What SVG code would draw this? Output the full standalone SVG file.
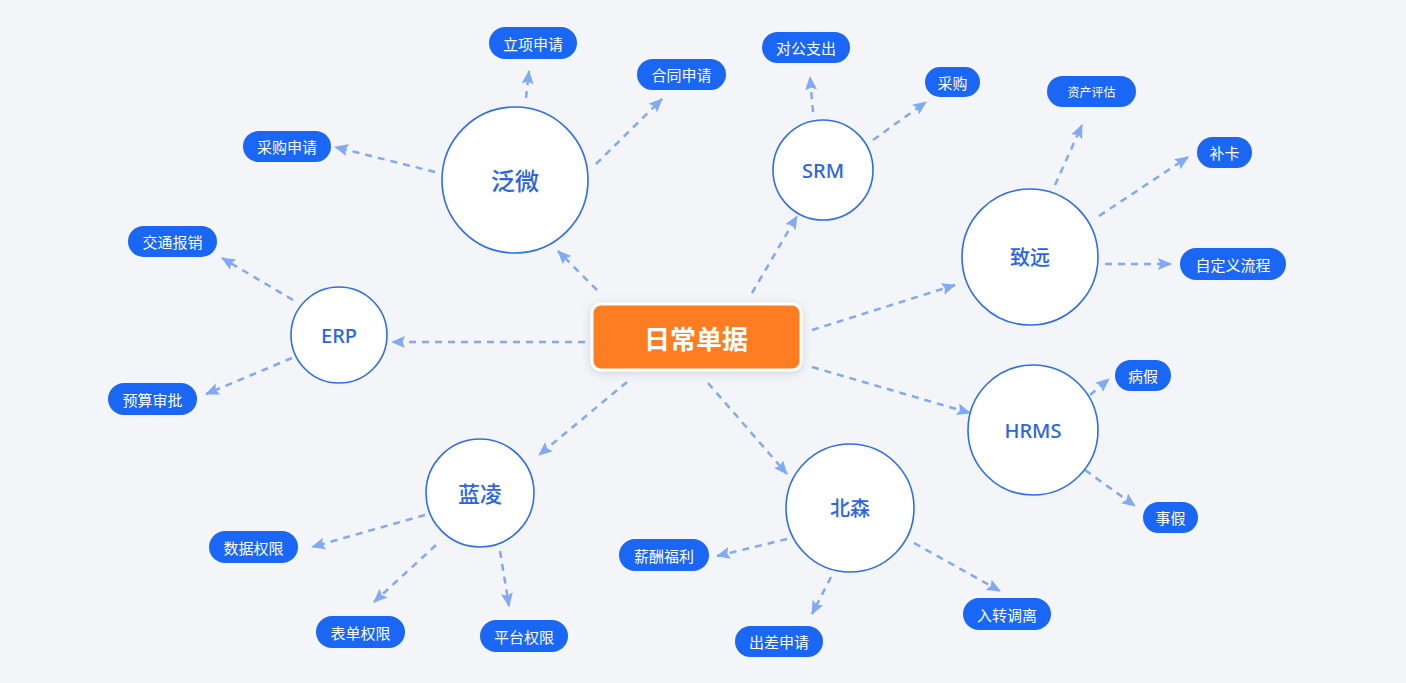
<svg xmlns="http://www.w3.org/2000/svg" width="1406" height="683" viewBox="0 0 1406 683">
<defs>
<marker id="ah" viewBox="0 0 14 14" markerWidth="14" markerHeight="14" refX="13" refY="7" orient="auto" markerUnits="userSpaceOnUse">
<path d="M0,1 L14,7 L0,13 L2.5,7 z" fill="#82a9f6"/>
</marker>
<filter id="sh" x="-20%" y="-40%" width="140%" height="180%">
<feDropShadow dx="0" dy="2" stdDeviation="5" flood-color="#8a94a6" flood-opacity="0.35"/>
</filter>
</defs>
<style>
.bg{fill:#f3f5f8}
.c{fill:#ffffff;stroke:#2c6df1;stroke-width:1.6}
.ct{fill:#2a64e6;font-family:"Noto Sans","Noto Sans CJK SC",sans-serif;font-weight:500;text-anchor:middle;dominant-baseline:central}
.p{fill:#1a66f5}
.pt{fill:#ffffff;font-family:"Noto Sans CJK SC",sans-serif;font-size:15px;text-anchor:middle;dominant-baseline:central}
.pt.s{font-size:12px}
.l{stroke:#82a9f6;stroke-width:2.5;stroke-dasharray:7 6;fill:none;marker-end:url(#ah)}
</style>
<rect class="bg" x="0" y="0" width="1406" height="683"/>
<g id="connectors">
<line class="l" x1="597" y1="290" x2="558" y2="251"/>
<line class="l" x1="752" y1="293" x2="797" y2="216"/>
<line class="l" x1="812" y1="330" x2="955" y2="285"/>
<line class="l" x1="585" y1="342" x2="392" y2="342"/>
<line class="l" x1="812" y1="367" x2="970" y2="413"/>
<line class="l" x1="708" y1="383" x2="787" y2="474"/>
<line class="l" x1="627" y1="382" x2="539" y2="455"/>
<line class="l" x1="526" y1="98" x2="529" y2="71"/>
<line class="l" x1="596" y1="164" x2="662" y2="99"/>
<line class="l" x1="435" y1="172" x2="335" y2="147"/>
<line class="l" x1="813" y1="112" x2="810" y2="77"/>
<line class="l" x1="873" y1="140" x2="926" y2="102"/>
<line class="l" x1="1055" y1="185" x2="1082" y2="125"/>
<line class="l" x1="1099" y1="216" x2="1188" y2="157"/>
<line class="l" x1="1105" y1="264" x2="1171" y2="264"/>
<line class="l" x1="293" y1="300" x2="222" y2="258"/>
<line class="l" x1="292" y1="358" x2="206" y2="394"/>
<line class="l" x1="1090" y1="395" x2="1109" y2="379"/>
<line class="l" x1="1085" y1="470" x2="1135" y2="506"/>
<line class="l" x1="425" y1="515" x2="312" y2="547"/>
<line class="l" x1="436" y1="545" x2="374" y2="602"/>
<line class="l" x1="500" y1="551" x2="509" y2="606"/>
<line class="l" x1="787" y1="539" x2="717" y2="556"/>
<line class="l" x1="831" y1="577" x2="812" y2="614"/>
<line class="l" x1="914" y1="543" x2="1000" y2="591"/>
</g>
<g id="center">
<rect x="592" y="304" width="209" height="66" rx="9" fill="#fe7c22" stroke="#ffffff" stroke-width="3" filter="url(#sh)"/>
<text x="696" y="337" fill="#ffffff" font-family="'Noto Sans CJK SC',sans-serif" font-size="26" font-weight="700" text-anchor="middle" dominant-baseline="central">日常单据</text>
</g>
<g id="fanwei"><circle class="c" cx="515" cy="180" r="73"/><text class="ct" x="515" y="180" font-size="24">泛微</text></g>
<g id="srm"><circle class="c" cx="823" cy="170" r="50"/><text class="ct" x="823" y="170" font-size="20">SRM</text></g>
<g id="zhiyuan"><circle class="c" cx="1030" cy="257" r="68"/><text class="ct" x="1030" y="257" font-size="20">致远</text></g>
<g id="erp"><circle class="c" cx="339" cy="335" r="48"/><text class="ct" x="339" y="335" font-size="20">ERP</text></g>
<g id="lanling"><circle class="c" cx="480" cy="493" r="54"/><text class="ct" x="480" y="493" font-size="22">蓝凌</text></g>
<g id="beisen"><circle class="c" cx="850" cy="508" r="64"/><text class="ct" x="850" y="508" font-size="20">北森</text></g>
<g id="hrms"><circle class="c" cx="1033" cy="430" r="65"/><text class="ct" x="1033" y="430" font-size="20">HRMS</text></g>
<g id="lixiang"><rect class="p" x="489" y="27" width="88" height="32" rx="16"/><text class="pt" x="533" y="43">立项申请</text></g>
<g id="hetong"><rect class="p" x="637" y="59" width="89" height="31" rx="15.5"/><text class="pt" x="681.5" y="74.5">合同申请</text></g>
<g id="caigoushenqing"><rect class="p" x="243" y="131" width="88" height="31" rx="15.5"/><text class="pt" x="287" y="146.5">采购申请</text></g>
<g id="duigong"><rect class="p" x="762" y="32" width="88" height="31" rx="15.5"/><text class="pt" x="806" y="47.5">对公支出</text></g>
<g id="caigou"><rect class="p" x="925" y="67" width="55" height="30" rx="15"/><text class="pt" x="952.5" y="82">采购</text></g>
<g id="zichan"><rect class="p" x="1047" y="76" width="89" height="31" rx="15.5"/><text class="pt s" x="1091.5" y="91.5">资产评估</text></g>
<g id="buka"><rect class="p" x="1197" y="137" width="55" height="31" rx="15.5"/><text class="pt" x="1224.5" y="152.5">补卡</text></g>
<g id="zidingyi"><rect class="p" x="1180" y="248" width="106" height="32" rx="16"/><text class="pt" x="1233" y="264">自定义流程</text></g>
<g id="jiaotong"><rect class="p" x="128" y="226" width="89" height="31" rx="15.5"/><text class="pt" x="172.5" y="241.5">交通报销</text></g>
<g id="yusuan"><rect class="p" x="108" y="383" width="89" height="32" rx="16"/><text class="pt" x="152.5" y="399">预算审批</text></g>
<g id="bingjia"><rect class="p" x="1115" y="360" width="56" height="31" rx="15.5"/><text class="pt" x="1143" y="375.5">病假</text></g>
<g id="shijia"><rect class="p" x="1143" y="502" width="55" height="31" rx="15.5"/><text class="pt" x="1170.5" y="517.5">事假</text></g>
<g id="shuju"><rect class="p" x="209" y="531" width="89" height="32" rx="16"/><text class="pt" x="253.5" y="547">数据权限</text></g>
<g id="biaodan"><rect class="p" x="316" y="616" width="89" height="32" rx="16"/><text class="pt" x="360.5" y="632">表单权限</text></g>
<g id="pingtai"><rect class="p" x="480" y="620" width="88" height="32" rx="16"/><text class="pt" x="524" y="636">平台权限</text></g>
<g id="xinchou"><rect class="p" x="619" y="539" width="90" height="32" rx="16"/><text class="pt" x="664" y="555">薪酬福利</text></g>
<g id="chuchai"><rect class="p" x="735" y="626" width="88" height="31" rx="15.5"/><text class="pt" x="779" y="641.5">出差申请</text></g>
<g id="ruzhuan"><rect class="p" x="963" y="598" width="88" height="32" rx="16"/><text class="pt" x="1007" y="614">入转调离</text></g>
</svg>
